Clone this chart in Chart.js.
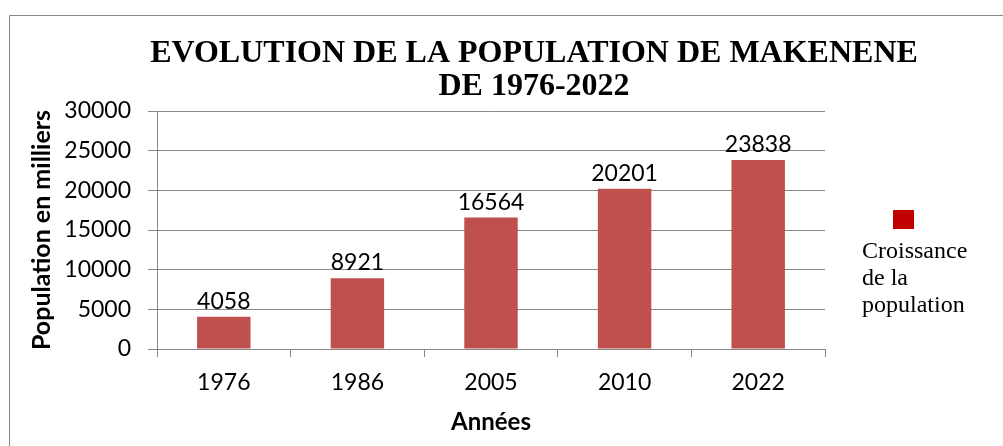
<!DOCTYPE html>
<html>
<head>
<meta charset="utf-8">
<script src="https://cdn.jsdelivr.net/npm/chart.js@4"></script>
<style>
  html, body { margin: 0; padding: 0; background: #fff; }
  #wrap { width: 1003px; height: 446px; }
</style>
</head>
<body>
<div id="wrap"><canvas id="chart" width="1003" height="446"></canvas></div>
<script>
const titleLines = ['EVOLUTION DE LA POPULATION DE MAKENENE', 'DE 1976-2022']
const years = ['1976', '1986', '2005', '2010', '2022']
const population = [4058, 8921, 16564, 20201, 23838]
const seriesName = ['Croissance', 'de la', 'population']
const yMin = 0
const yMax = 30000
const yStep = 5000
const yTitle = 'Population en milliers'
const xTitle = 'Années'

const barColor = '#C0504D'
const legendColor = '#C00000'
const lineColor = '#878787'
const sansFont = 'Lato'
const serifFont = "'Liberation Serif'"

// cadre, titre et légende dessinés à la main (mise en page type Excel)
const decorPlugin = {
  id: 'decor',
  beforeDraw(chart) {
    const ctx = chart.ctx
    ctx.save()
    ctx.strokeStyle = lineColor
    ctx.lineWidth = 1
    ctx.beginPath()
    ctx.moveTo(9.5, 446)
    ctx.lineTo(9.5, 15.5)
    ctx.lineTo(1003, 15.5)
    ctx.stroke()
    ctx.restore()
  },
  afterDraw(chart) {
    const ctx = chart.ctx
    ctx.save()
    ctx.fillStyle = '#000'
    ctx.font = 'bold 32px ' + serifFont
    ctx.textAlign = 'center'
    ctx.textBaseline = 'alphabetic'
    ctx.fillText(titleLines[0], 534, 62)
    ctx.fillText(titleLines[1], 534, 95)

    ctx.fillStyle = legendColor
    ctx.fillRect(893, 210, 21, 19)
    ctx.fillStyle = '#000'
    ctx.font = '24px ' + serifFont
    ctx.textAlign = 'left'
    seriesName.forEach(function(t, i) {
      ctx.fillText(t, 862, 258 + i * 27)
    })
    ctx.restore()
  }
}

// valeurs au-dessus des barres
const valuePlugin = {
  id: 'values',
  afterDatasetsDraw(chart) {
    const ctx = chart.ctx
    const meta = chart.getDatasetMeta(0)
    ctx.save()
    ctx.fillStyle = '#000'
    ctx.font = '23px ' + sansFont
    ctx.textAlign = 'center'
    ctx.textBaseline = 'alphabetic'
    meta.data.forEach(function(bar, i) {
      ctx.fillText(String(chart.data.datasets[0].data[i]), bar.x, bar.y - 8)
    })
    ctx.restore()
  }
}

const canvas = document.getElementById('chart')
new Chart(canvas, {
  type: 'bar',
  data: {
    labels: years,
    datasets: [{
      label: seriesName.join(' '),
      data: population,
      backgroundColor: barColor,
      borderWidth: 0,
      barPercentage: 0.4,
      categoryPercentage: 1
    }]
  },
  options: {
    responsive: false,
    animation: false,
    layout: { padding: { left: 16, right: 178, top: 111, bottom: 0 } },
    plugins: {
      legend: { display: false },
      title: { display: false },
      tooltip: { enabled: false }
    },
    scales: {
      x: {
        afterFit: function(scale) { scale.height = 97 },
        grid: {
          offset: true,
          drawOnChartArea: false,
          drawTicks: true,
          tickLength: 8,
          color: lineColor
        },
        border: { color: lineColor, width: 1 },
        ticks: {
          color: '#000',
          padding: 12,
          font: { family: sansFont, size: 23 }
        },
        title: {
          display: true,
          text: xTitle,
          color: '#000',
          padding: { top: 0, bottom: 9 },
          font: { family: sansFont, size: 24, weight: 'bold' }
        }
      },
      y: {
        min: yMin,
        max: yMax,
        afterFit: function(scale) { scale.width = 141 },
        grid: {
          color: lineColor,
          drawTicks: true,
          tickLength: 9
        },
        border: { color: lineColor, width: 1 },
        ticks: {
          stepSize: yStep,
          color: '#000',
          padding: 17,
          font: { family: sansFont, size: 23 },
          callback: function(v) { return String(v) }
        },
        title: {
          display: true,
          text: yTitle,
          color: '#000',
          padding: { top: 11, bottom: 0 },
          font: { family: sansFont, size: 25, weight: 'bold' }
        }
      }
    }
  },
  plugins: [decorPlugin, valuePlugin]
})
</script>
</body>
</html>
